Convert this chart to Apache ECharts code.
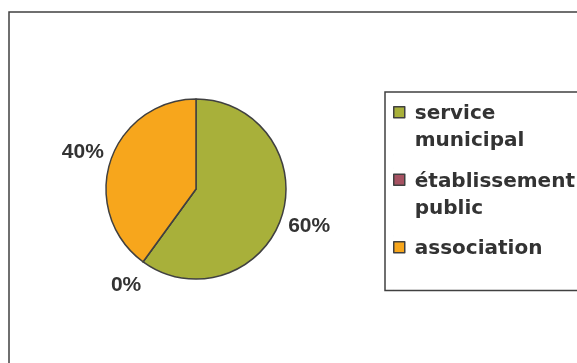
<!DOCTYPE html>
<html>
<head>
<meta charset="utf-8">
<script src="https://cdn.jsdelivr.net/npm/echarts@6/dist/echarts.min.js"></script>
<style>
html,body{margin:0;padding:0;background:#fff;}
#chart{width:577px;height:363px;}
</style>
</head>
<body>
<div id="chart"></div>
<script>
const categories = ['service municipal', 'établissement public', 'association'];
const values = [60, 0, 40];
const sliceColors = ['#A8B03A', '#A65262', '#F7A61C'];

const pieData = categories.map((name, i) => ({ name: name, value: values[i], itemStyle: { color: sliceColors[i] } }));
const labelData = categories.map((name, i) => ({ name: name, value: values[i] }));

// legend text wraps onto two lines (words on separate lines, single words keep an empty second line)
function legendText(name) {
  const parts = name.split(' ');
  return parts.length > 1 ? parts[0] + '\n' + parts.slice(1).join(' ') : name + '\n ';
}

const chart = echarts.init(document.getElementById('chart'), null, { renderer: 'canvas' });
chart.setOption({
  backgroundColor: '#ffffff',
  animation: false,
  graphic: [{
    type: 'rect',
    silent: true,
    shape: { x: 9, y: 12, width: 700, height: 500 },
    style: { fill: 'none', stroke: '#404040', lineWidth: 1.5 }
  }],
  legend: {
    orient: 'vertical',
    left: 385,
    top: 92,
    padding: [8, 30, 0, 8],
    itemWidth: 11,
    itemHeight: 54,
    itemGap: 12,
    icon: 'path://M0,0h0.01M0,6h11v11h-11zM0,54h0.01',
    borderColor: '#404040',
    borderWidth: 1.5,
    backgroundColor: '#ffffff',
    itemStyle: { borderColor: '#404040', borderWidth: 1.5 },
    formatter: legendText,
    textStyle: {
      fontFamily: 'DejaVu Sans',
      fontWeight: 'bold',
      fontSize: 20,
      color: '#333333',
      lineHeight: 27,
      padding: [0, 0, 0, 5]
    },
    data: categories
  },
  series: [
    {
      type: 'pie',
      center: [196, 189],
      radius: 90,
      startAngle: 90,
      clockwise: true,
      avoidLabelOverlap: false,
      emphasis: { disabled: true },
      label: { show: false },
      labelLine: { show: false },
      itemStyle: { borderColor: '#404040', borderWidth: 1.5 },
      data: pieData
    },
    {
      type: 'pie',
      center: [196, 189],
      radius: [107, 125],
      startAngle: 90,
      clockwise: true,
      silent: true,
      avoidLabelOverlap: false,
      emphasis: { disabled: true },
      itemStyle: { color: 'rgba(0,0,0,0)', borderWidth: 0 },
      labelLine: { show: false },
      label: {
        show: true,
        position: 'inside',
        formatter: '{c}%',
        fontFamily: 'Liberation Sans',
        fontWeight: 'bold',
        fontSize: 21,
        color: '#333333'
      },
      data: labelData
    }
  ]
});
</script>
</body>
</html>
